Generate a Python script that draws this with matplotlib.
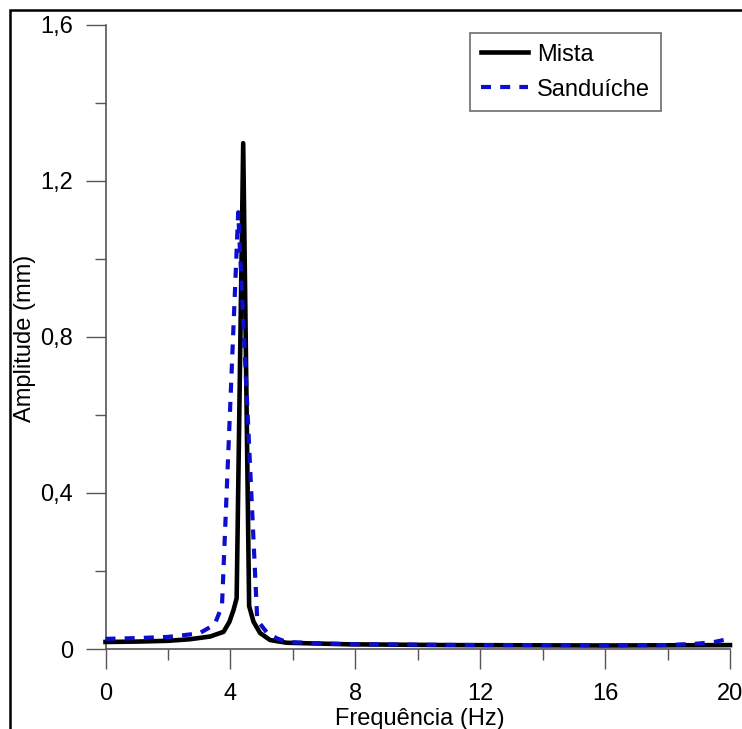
import numpy as np
import matplotlib
matplotlib.use("Agg")
import matplotlib.pyplot as plt
from matplotlib.patches import Rectangle
from matplotlib.ticker import MultipleLocator, FixedLocator

# values
freq_mista = [0, 1, 2, 2.7, 3.35, 3.78, 3.97, 4.1, 4.2, 4.41, 4.6, 4.74, 4.95, 5.27,
              5.8, 7.8, 11, 16, 20]
amp_mista = [0.018, 0.019, 0.021, 0.025, 0.032, 0.044, 0.07, 0.1, 0.13, 1.297, 0.11,
             0.07, 0.041, 0.023, 0.016, 0.012, 0.01, 0.009, 0.01]

freq_sand = [0, 1, 2, 3, 3.35, 3.5, 3.73, 4.25, 4.86, 5.18, 5.5, 5.8, 7, 8, 10, 12,
             14, 16, 18, 19, 19.5, 19.85, 20]
amp_sand = [0.026, 0.028, 0.031, 0.04, 0.056, 0.064, 0.11, 1.12, 0.074, 0.041, 0.027,
            0.018, 0.014, 0.012, 0.011, 0.01, 0.01, 0.01, 0.01, 0.014, 0.018, 0.024, 0.022]

xticks = [0, 4, 8, 12, 16, 20]
yticks = [0, 0.4, 0.8, 1.2, 1.6]
ylabels = ['0', '0,4', '0,8', '1,2', '1,6']

plt.rcParams['font.family'] = ['Liberation Sans', 'DejaVu Sans']
W, H = 742, 729
fs = 17
fig = plt.figure(figsize=(W / 100, H / 100), dpi=100)
ax = fig.add_axes([105.5 / W, 1 - 649 / H, (730 - 105.5) / W, (649 - 25) / H])

l1, = ax.plot(freq_mista, amp_mista, color='black', lw=3.3, solid_joinstyle='round',
              clip_on=False, zorder=3)
l2, = ax.plot(freq_sand, amp_sand, color='#0d0dd0', lw=3.0, dashes=(2.4, 2.2),
              clip_on=False, zorder=4)

ax.set_xlim(0, 20)
ax.set_ylim(0, 1.6)
for s in ['top', 'right']:
    ax.spines[s].set_visible(False)
for s in ['left', 'bottom']:
    ax.spines[s].set_color('#555555')
    ax.spines[s].set_linewidth(1.2)

ax.xaxis.set_major_locator(FixedLocator(xticks))
ax.xaxis.set_minor_locator(MultipleLocator(2))
ax.yaxis.set_major_locator(FixedLocator(yticks))
ax.yaxis.set_minor_locator(MultipleLocator(0.2))
ax.set_yticklabels(ylabels)
ax.tick_params(which='major', direction='out', length=14.4, width=1.0, color='#555555',
               labelsize=fs, pad=9)
ax.tick_params(which='minor', direction='out', length=7.9, width=1.0, color='#555555')
ax.tick_params(axis='x', which='major', pad=10)

fig.text(25 / W, 1 - 338 / H, 'Amplitude (mm)', rotation=90, fontsize=fs,
         ha='center', va='center')
fig.text(420 / W, 1 - 719 / H, 'Frequência (Hz)', fontsize=fs, ha='center', va='center')

leg = ax.legend([l1, l2], ['Mista', 'Sanduíche'], loc='upper left',
                bbox_to_anchor=(470 / W, 1 - 33 / H), bbox_transform=fig.transFigure,
                fontsize=fs, fancybox=False, framealpha=1, edgecolor='#777777',
                handlelength=2.0, handletextpad=0.4, labelspacing=0.55, borderpad=0.45,
                borderaxespad=0)
leg.get_frame().set_linewidth(1.3)

# outer frame of the picture
fig.patches.append(Rectangle((10 / W, -0.1), 1.2, 1 - 10 / H + 0.1, fill=False,
                             edgecolor='black', lw=1.8, transform=fig.transFigure))

fig.savefig('out.png', dpi=100)
